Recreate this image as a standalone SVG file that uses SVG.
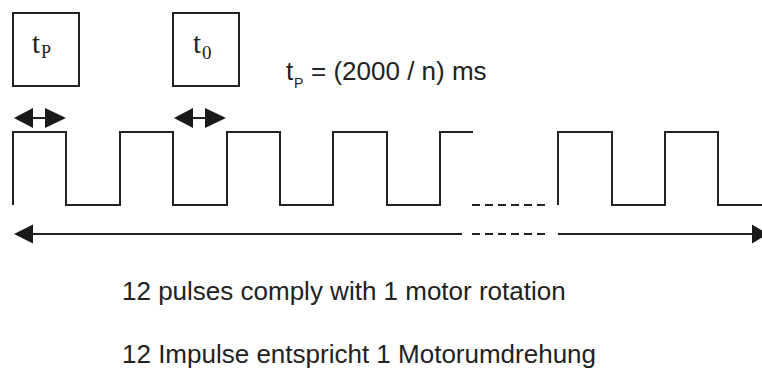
<svg xmlns="http://www.w3.org/2000/svg" width="762" height="370" viewBox="0 0 762 370">
<style>
.box{fill:#fff;stroke:#222;stroke-width:2}
.ln{fill:none;stroke:#222;stroke-width:2}
.dash{fill:none;stroke:#222;stroke-width:2;stroke-dasharray:8 5}
.head{fill:#1a1a1a}
.serif{font-family:"Liberation Serif","Times New Roman",serif;fill:#222}
.sans{font-family:"Liberation Sans",Arial,sans-serif;fill:#222}
</style>
<rect width="762" height="370" fill="#fff"/>
<g id="box-tp">
<rect class="box" x="13" y="13" width="66" height="73"/>
<text class="serif" x="32" y="53" font-size="29">t</text>
<text class="serif" x="41" y="58" font-size="18">P</text>
</g>
<g id="box-t0">
<rect class="box" x="173" y="13" width="66" height="73"/>
<text class="serif" x="193" y="53" font-size="29">t</text>
<text class="serif" x="202" y="59" font-size="19">0</text>
</g>
<g id="formula">
<text class="sans" x="286" y="80" font-size="26">t</text>
<text class="sans" x="294" y="88" font-size="14">P</text>
<text class="sans" x="311" y="80" font-size="26">= (2000 / n) ms</text>
</g>
<g id="waveform">
<path class="ln" d="M13,205 V132 H66 V205 H120 V132 H173 V205 H227 V132 H280 V205 H333 V132 H387 V205 H440 V132 H473"/>
<path class="dash" d="M472,205 H548"/>
<path class="ln" d="M558,205 V132 H612 V205 H665 V132 H718 V205 H762"/>
</g>
<g id="connectors">
<line class="ln" x1="33" y1="118" x2="45" y2="118"/>
<polygon class="head" points="14,118 33,108 33,128"/>
<polygon class="head" points="66,118 45,108 45,128"/>
<line class="ln" x1="193" y1="118" x2="205" y2="118"/>
<polygon class="head" points="174,118 193,108 193,128"/>
<polygon class="head" points="226,118 205,108 205,128"/>
<line class="ln" x1="33" y1="234" x2="462" y2="234"/>
<path class="dash" d="M472,234 H548"/>
<line class="ln" x1="558" y1="234" x2="752" y2="234"/>
<polygon class="head" points="14,234 33,224.5 33,243.5"/>
<polygon class="head" points="768,234 752,224.5 752,243.5"/>
</g>
<g id="captions">
<text class="sans" x="122" y="300" font-size="26">12 pulses comply with 1 motor rotation</text>
<text class="sans" x="122" y="363" font-size="26">12 Impulse entspricht 1 Motorumdrehung</text>
</g>
</svg>
